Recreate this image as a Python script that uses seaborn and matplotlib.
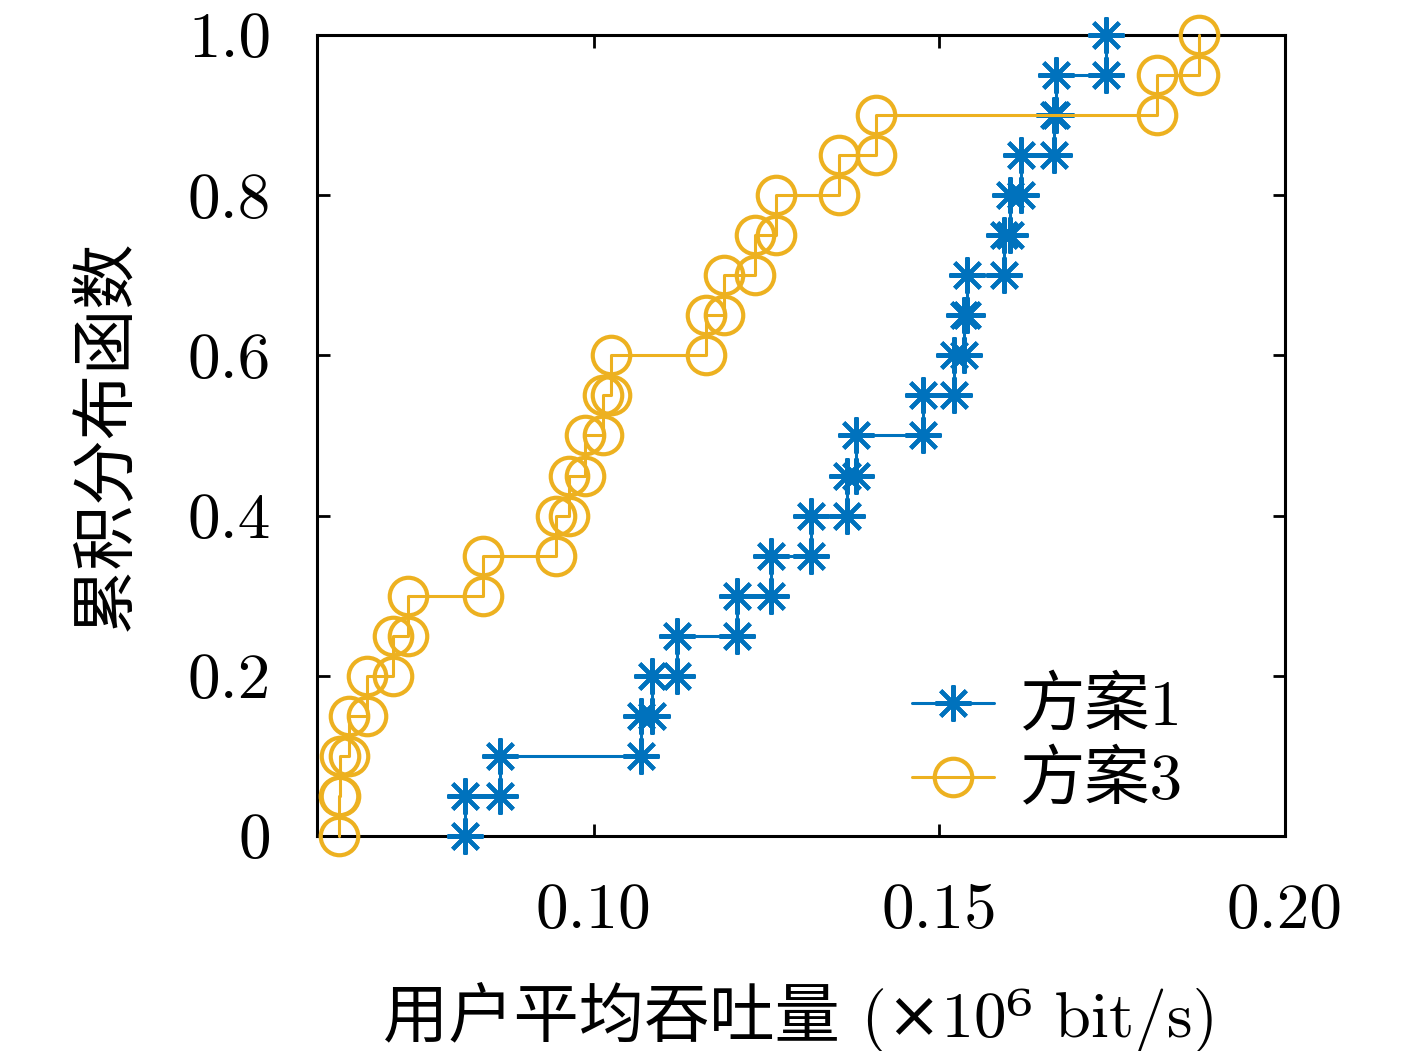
import numpy as np
import pandas as pd
import matplotlib
matplotlib.use('Agg')
import matplotlib.pyplot as plt
import seaborn as sns

# sorted per-user throughput samples (x1e6 bit/s)
fa1 = [0.0814, 0.0864, 0.1068, 0.1084, 0.1120, 0.1207, 0.1257, 0.1315, 0.1366, 0.1379,
       0.1477, 0.1522, 0.1536, 0.1540, 0.1594, 0.1603, 0.1618, 0.1666, 0.1669, 0.1741]
fa3 = [0.0632, 0.0634, 0.0647, 0.0672, 0.0710, 0.0731, 0.0840, 0.0945, 0.0965, 0.0988,
       0.1013, 0.1025, 0.1163, 0.1189, 0.1233, 0.1264, 0.1355, 0.1409, 0.1815, 0.1876]
names = ['方案1', '方案3']
xticks = [0.10, 0.15, 0.20]
xticklabels = ['0.10', '0.15', '0.20']
yticks = [0, 0.2, 0.4, 0.6, 0.8, 1.0]
yticklabels = ['0', '0.2', '0.4', '0.6', '0.8', '1.0']


def stairs(vals):
    # corners of the empirical cdf, every sample is a jump of 1/n
    v = np.sort(vals)
    n = len(v)
    lv = np.arange(n + 1) / n
    return pd.DataFrame({'x': np.repeat(v, 2),
                         'y': np.column_stack([lv[:-1], lv[1:]]).ravel()})


sns.set_style('ticks')
plt.rcParams['font.family'] = ['cmr10', 'DejaVu Serif', 'Noto Sans CJK SC']
plt.rcParams['axes.unicode_minus'] = False
plt.rcParams['text.color'] = 'black'
plt.rcParams['xtick.color'] = 'black'
plt.rcParams['ytick.color'] = 'black'
plt.rcParams['axes.labelcolor'] = 'black'
fs = 47

fig = plt.figure(figsize=(14.17, 10.51), dpi=100)
ax = fig.add_axes([0.2237, 0.2046, 0.6831, 0.7621])

sns.lineplot(data=stairs(fa1), x='x', y='y', sort=False, estimator=None, ax=ax,
             color='#0072BD', lw=2.2, marker=(8, 2, 0), ms=26, mew=3,
             mec='#0072BD', label=names[0], clip_on=False, zorder=3)
sns.lineplot(data=stairs(fa3), x='x', y='y', sort=False, estimator=None, ax=ax,
             color='#EDB120', lw=2.2, marker='o', ms=27, mew=3,
             mfc='none', mec='#EDB120', label=names[1], clip_on=False, zorder=3)

ax.set_xlim(0.06, 0.20)
ax.set_ylim(0, 1.0)
ax.set_xticks(xticks)
ax.set_xticklabels(xticklabels)
ax.set_yticks(yticks)
ax.set_yticklabels(yticklabels)
ax.tick_params(direction='in', length=9, width=2, top=True, right=True,
               labelsize=fs)
ax.tick_params(axis='x', pad=34)
ax.tick_params(axis='y', pad=33)
for s in ax.spines.values():
    s.set_linewidth(2.2)
    s.set_color('black')

ax.set_xlabel('用户平均吞吐量 (×10⁶ bit/s)', fontsize=fs)
ax.set_ylabel('累积分布函数', fontsize=fs)
ax.xaxis.set_label_coords(0.5, -0.182)
ax.yaxis.set_label_coords(-0.186, 0.5)

ax.legend(loc='upper left', bbox_to_anchor=(0.615, 0.198), frameon=False,
          fontsize=fs, handlelength=1.25, handletextpad=0.4, labelspacing=0.2,
          borderpad=0, borderaxespad=0)

fig.savefig('out.png', dpi=100, facecolor='white')
